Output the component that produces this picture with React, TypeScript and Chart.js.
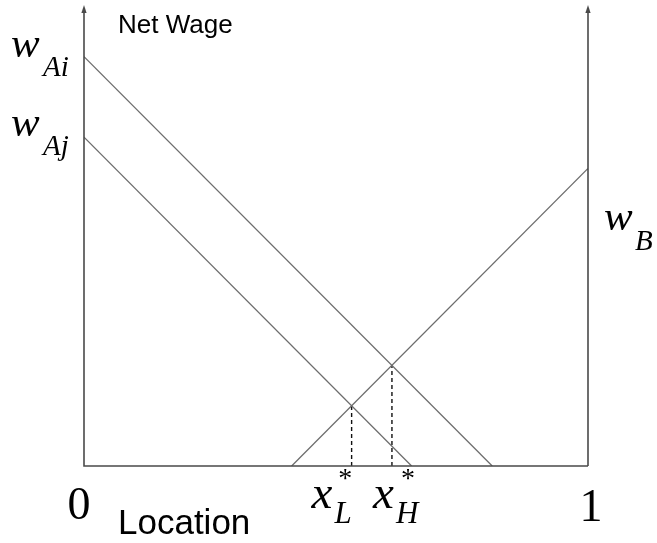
import React, { useEffect, useRef } from "react";
import { Chart, registerables } from "chart.js";

Chart.register(...registerables);

// Net wage schedules over location (0 = left end, 1 = right end)
const wageAiLine = [
  { x: 0, y: 0.89 },
  { x: 0.81, y: 0 },
];
const wageAjLine = [
  { x: 0, y: 0.715 },
  { x: 0.65, y: 0 },
];
const wageBLine = [
  { x: 0.412, y: 0 },
  { x: 1, y: 0.647 },
];
// Equilibrium locations where the A schedules cross the B schedule
const xLDrop = [
  { x: 0.531, y: 0 },
  { x: 0.531, y: 0.13 },
];
const xHDrop = [
  { x: 0.611, y: 0 },
  { x: 0.611, y: 0.218 },
];

const xTickLabels = ["0", "1"];
const yAxisTitle = "Net Wage";
const xAxisTitle = "Location";

const AXIS_COLOR = "#4a4a4a";
const LINE_COLOR = "#6c6c6c";
const SERIF = "'Liberation Serif', 'DejaVu Serif', serif";
const SANS = "'Liberation Sans', Arial, sans-serif";

const annotationPlugin = {
  id: "economicsAnnotations",
  afterDatasetsDraw(chart: any) {
    const { ctx } = chart;
    const xs = chart.scales.x;
    const ys = chart.scales.y;
    const x0 = xs.getPixelForValue(0);
    const x1 = xs.getPixelForValue(1);
    const yb = ys.getPixelForValue(0);
    const yt = ys.getPixelForValue(1);

    ctx.save();
    // Axes: two vertical wage axes and the location baseline
    ctx.strokeStyle = AXIS_COLOR;
    ctx.fillStyle = AXIS_COLOR;
    ctx.lineWidth = 1.6;
    ctx.beginPath();
    ctx.moveTo(x0, yt + 4);
    ctx.lineTo(x0, yb);
    ctx.lineTo(x1, yb);
    ctx.moveTo(x1, yt + 4);
    ctx.lineTo(x1, yb);
    ctx.stroke();
    for (const ax of [x0, x1]) {
      ctx.beginPath();
      ctx.moveTo(ax, yt - 1);
      ctx.lineTo(ax - 2.6, yt + 7);
      ctx.lineTo(ax + 2.6, yt + 7);
      ctx.closePath();
      ctx.fill();
    }

    ctx.fillStyle = "#000";
    ctx.textBaseline = "alphabetic";

    // Axis titles
    ctx.textAlign = "left";
    ctx.font = `26px ${SANS}`;
    ctx.fillText(yAxisTitle, x0 + 34, yt + 27);
    ctx.font = `35px ${SANS}`;
    ctx.fillText(xAxisTitle, x0 + 34, yb + 68);

    // Endpoint tick labels
    ctx.textAlign = "center";
    ctx.font = `46px ${SERIF}`;
    ctx.fillText(xTickLabels[0], x0 - 5, yb + 53);
    ctx.fillText(xTickLabels[1], x1 + 3, yb + 55);

    // Italic symbol with subscript
    const symbol = (
      main: string,
      sub: string,
      left: number,
      base: number,
      mainSize: number,
      subSize: number,
      subDx: number,
      subDy: number,
      star?: boolean
    ) => {
      ctx.textAlign = "left";
      ctx.font = `italic ${mainSize}px ${SERIF}`;
      ctx.fillText(main, left, base);
      ctx.font = `italic ${subSize}px ${SERIF}`;
      ctx.fillText(sub, left + subDx, base + subDy);
      if (star) {
        ctx.font = `28px ${SERIF}`;
        const sw = ctx.measureText(sub).width;
        ctx.textAlign = "center";
        ctx.fillText("*", left + subDx + sw / 2 + 2, base - 21);
      }
    };

    symbol("w", "Ai", x0 - 73, ys.getPixelForValue(0.89) + 0, 43, 29, 32, 19);
    symbol("w", "Aj", x0 - 73, ys.getPixelForValue(0.715) - 1, 43, 29, 32, 19);
    symbol("w", "B", x1 + 16, ys.getPixelForValue(0.647) + 62, 43, 29, 31, 20);
    symbol("x", "L", xs.getPixelForValue(0.531) - 40, yb + 42, 47, 31, 23, 15, true);
    symbol("x", "H", xs.getPixelForValue(0.611) - 19, yb + 42, 47, 31, 23, 15, true);

    ctx.restore();
  },
};

export default function App() {
  const canvasRef = useRef<HTMLCanvasElement>(null);

  useEffect(() => {
    if (!canvasRef.current) return;
    const solid = (data: { x: number; y: number }[]) => ({
      data,
      showLine: true,
      borderColor: LINE_COLOR,
      borderWidth: 1.3,
      pointRadius: 0,
      fill: false,
    });
    const dashed = (data: { x: number; y: number }[]) => ({
      data,
      showLine: true,
      borderColor: "#111",
      borderWidth: 1.4,
      borderDash: [4, 3],
      pointRadius: 0,
      fill: false,
    });

    const chart = new Chart(canvasRef.current, {
      type: "scatter",
      data: {
        datasets: [
          solid(wageAiLine),
          solid(wageAjLine),
          solid(wageBLine),
          dashed(xLDrop),
          dashed(xHDrop),
        ],
      },
      options: {
        responsive: false,
        animation: false,
        layout: { padding: { left: 84, right: 69, top: 6, bottom: 77 } },
        plugins: {
          legend: { display: false },
          tooltip: { enabled: false },
        },
        scales: {
          x: { type: "linear", min: 0, max: 1, display: false },
          y: { type: "linear", min: 0, max: 1, display: false },
        },
      },
      plugins: [annotationPlugin],
    });
    return () => chart.destroy();
  }, []);

  return (
    <div style={{ position: "fixed", left: 0, top: 0, width: 657, height: 543, background: "#fff" }}>
      <canvas ref={canvasRef} width={657} height={543} />
    </div>
  );
}
